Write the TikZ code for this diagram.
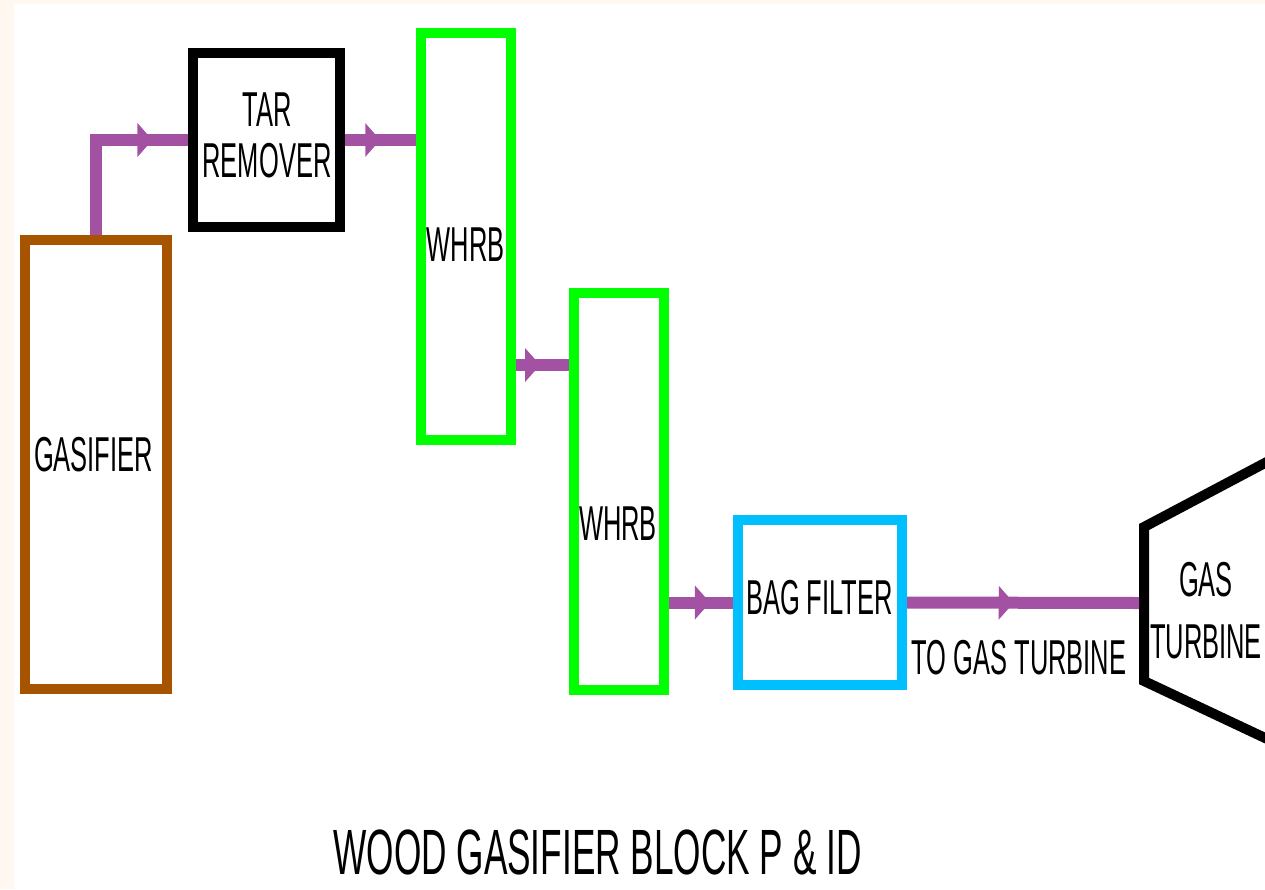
\documentclass[tikz,border=0pt]{standalone}
\usepackage{fontspec}
\usepackage{tikz}
\usetikzlibrary{arrows.meta,decorations.markings}
\newfontfamily\labelfont[FakeStretch=0.52]{Liberation Sans}
\newfontfamily\titlefont[FakeStretch=0.55]{Liberation Sans}
\definecolor{cream}{RGB}{255,248,240}
\definecolor{woodbrown}{RGB}{166,84,0}
\definecolor{pipepurple}{RGB}{163,82,163}
\definecolor{whrbgreen}{RGB}{0,255,0}
\definecolor{filtercyan}{RGB}{0,191,255}

\begin{document}
\begin{tikzpicture}[
        x=1pt, y=-1pt,
        unit/.style={draw, line width=10pt, fill=white, inner sep=0pt},
        pipe/.style={draw, color=pipepurple, line width=12pt},
        flow/.style={postaction={decorate}, decoration={markings,
            mark=at position #1 with {\arrow{Triangle[length=15pt,width=33pt]}}}},
        txt/.style={font=\labelfont\fontsize{49}{51}\selectfont, align=center, inner sep=0pt}
    ]
        % Latar
        \useasboundingbox (0,0) rectangle (1265,889);
        \clip (0,0) rectangle (1265,889);
        \fill[cream] (0,0) rectangle (1265,889);
        \fill[white] (14,4) rectangle (1265,889);

        % Unit proses
        \node[unit, draw=woodbrown, minimum width=142pt, minimum height=449pt] (gasifier) at (96,464.5) {};
        \node[unit, draw=black, minimum width=147pt, minimum height=174pt] (tar) at (266.5,140) {};
        \node[unit, draw=whrbgreen, minimum width=90pt, minimum height=407pt] (whrbA) at (465.5,236.5) {};
        \node[unit, draw=whrbgreen, minimum width=90pt, minimum height=397pt] (whrbB) at (619,491.5) {};
        \node[unit, draw=filtercyan, minimum width=164pt, minimum height=165pt] (bag) at (820,602.5) {};

        % Turbin gas
        \draw[line width=10pt, line join=miter] (1280,455) -- (1144,527) -- (1144,681) -- (1280,745);
        \coordinate (turbin) at (1139,603);

        % Aliran gas
        \draw[pipe, flow=0.81] (gasifier.north) |- (tar.west);
        \draw[pipe, flow=0.5] (tar.east) -- (tar.east -| whrbA.west);
        \draw[pipe, flow=0.46] (whrbA.east |- 0,365) -- (whrbB.west |- 0,365);
        \draw[pipe, flow=0.64] (whrbB.east |- bag.west) -- (bag.west);
        \draw[pipe, flow=0.46] (bag.east) -- (turbin);

        % Label
        \node[txt] (gasifierlbl) at (93.5,455) {GASIFIER};
        \node[txt] (tarlbl) at (267,135) {TAR\\REMOVER};
        \node[txt] (whrbAlbl) at (465.5,245) {WHRB};
        \node[txt] (whrbBlbl) at (618,524) {WHRB};
        \node[txt] (baglbl) at (819.5,597.5) {BAG FILTER};
        \node[txt] (tolbl) at (1019,658) {TO GAS TURBINE};
        \node[txt, font=\labelfont\fontsize{49}{62}\selectfont] (turbinelbl) at (1206,611) {GAS\\TURBINE};

        % Judul
        \node[inner sep=0pt, font=\titlefont\fontsize{64}{70}\selectfont] (title) at (597.5,852) {WOOD GASIFIER BLOCK P \& ID};
    \end{tikzpicture}
\end{document}
